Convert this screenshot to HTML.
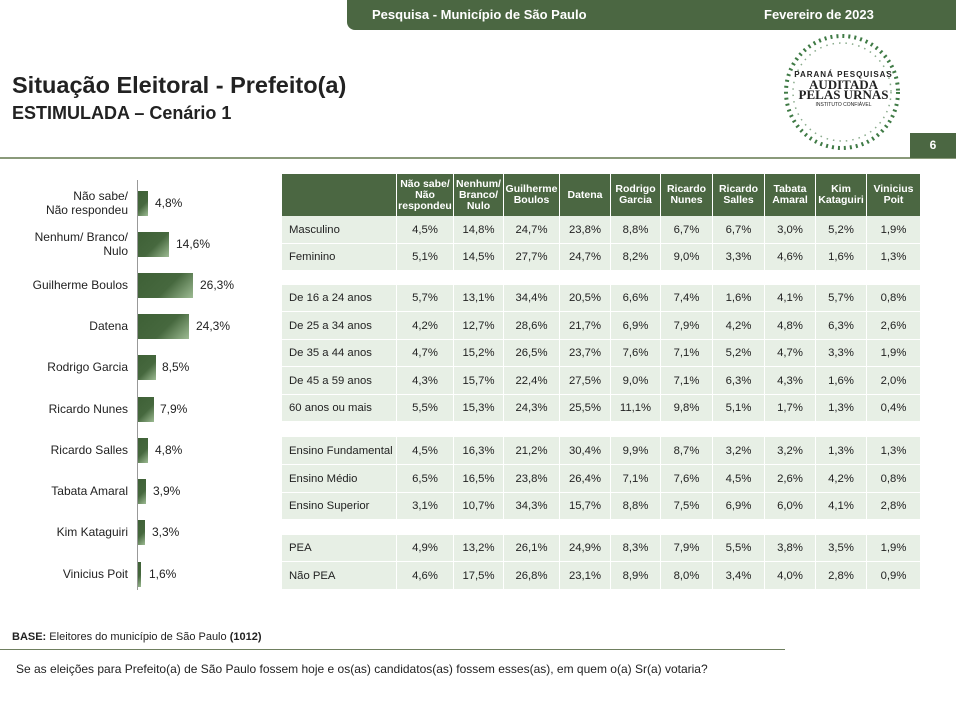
<!DOCTYPE html>
<html><head><meta charset="utf-8"><style>
*{margin:0;padding:0;box-sizing:border-box}
body{width:956px;height:716px;background:#fff;position:relative;overflow:hidden;font-family:"Liberation Sans",Arial,sans-serif;color:#222}
.a{position:absolute}
.hdr{left:347px;top:0;width:609px;height:30px;background:#4b6742;border-bottom-left-radius:8px;color:#fff;font-weight:bold;font-size:13px}
.row{position:absolute;left:282px;width:638px;display:flex;font-size:11.3px}
.row div{height:100%;display:flex;align-items:center;justify-content:center;border-right:1px solid #fff;background:#e7efe5;text-align:center}
.row div:first-child{justify-content:flex-start;padding-left:7px}
.row div:last-child{border-right:none}
.h div{background:#4b6742;color:#fff;font-weight:bold;font-size:10.5px;line-height:11px}
.lbl{position:absolute;right:828px;font-size:12px;text-align:right;line-height:14px;transform:translateY(-50%)}
.bar{position:absolute;left:138px;height:25px;background:linear-gradient(135deg,#3e6036 0%,#46683e 55%,#9dbb93 100%)}
.val{position:absolute;font-size:12px;transform:translateY(-50%)}
</style></head><body>
<div class="a hdr"><span class="a" style="left:25px;top:7px">Pesquisa - Município de São Paulo</span><span class="a" style="left:417px;top:7px">Fevereiro de 2023</span></div>
<div class="a" style="left:12px;top:72px;font-size:23.5px;font-weight:bold">Situação Eleitoral - Prefeito(a)</div>
<div class="a" style="left:12px;top:103px;font-size:18px;font-weight:bold">ESTIMULADA – Cenário 1</div>
<svg class="a" style="left:780px;top:30px" width="125" height="125" viewBox="0 0 125 125">
<circle cx="62" cy="62" r="56" fill="none" stroke="#3f7a45" stroke-width="4" stroke-dasharray="2 4"/>
<circle cx="62" cy="62" r="49" fill="none" stroke="#8aab8c" stroke-width="1.5" stroke-dasharray="1.5 5"/>
</svg>
<div class="a" style="left:786px;top:70px;width:115px;text-align:center;font-weight:bold;line-height:10px"><div style="font-size:8px;letter-spacing:1px">PARANÁ PESQUISAS</div><div style="font-family:'Liberation Serif',serif;font-size:13px">AUDITADA</div><div style="font-family:'Liberation Serif',serif;font-size:13px">PELAS URNAS</div><div style="font-size:5px;font-weight:normal">INSTITUTO CONFIÁVEL</div></div>
<div class="a" style="left:0;top:157px;width:956px;height:2px;background:#8a9a7a"></div>
<div class="a" style="left:910px;top:133px;width:46px;height:25px;background:#4b6742;color:#fff;font-weight:bold;font-size:12px;text-align:center;line-height:25px">6</div>

<div class="a" style="left:137px;top:180px;width:1px;height:410px;background:#999"></div>
<div class="lbl" style="top:203px">Não sabe/<br>Não respondeu</div><div class="bar" style="top:191px;width:10px"></div><div class="val" style="left:155px;top:203px">4,8%</div>
<div class="lbl" style="top:244px">Nenhum/ Branco/<br>Nulo</div><div class="bar" style="top:232px;width:31px"></div><div class="val" style="left:176px;top:244px">14,6%</div>
<div class="lbl" style="top:285px">Guilherme Boulos</div><div class="bar" style="top:273px;width:55px"></div><div class="val" style="left:200px;top:285px">26,3%</div>
<div class="lbl" style="top:326px">Datena</div><div class="bar" style="top:314px;width:51px"></div><div class="val" style="left:196px;top:326px">24,3%</div>
<div class="lbl" style="top:367px">Rodrigo Garcia</div><div class="bar" style="top:355px;width:18px"></div><div class="val" style="left:162px;top:367px">8,5%</div>
<div class="lbl" style="top:409px">Ricardo Nunes</div><div class="bar" style="top:397px;width:16px"></div><div class="val" style="left:160px;top:409px">7,9%</div>
<div class="lbl" style="top:450px">Ricardo Salles</div><div class="bar" style="top:438px;width:10px"></div><div class="val" style="left:155px;top:450px">4,8%</div>
<div class="lbl" style="top:491px">Tabata Amaral</div><div class="bar" style="top:479px;width:8px"></div><div class="val" style="left:153px;top:491px">3,9%</div>
<div class="lbl" style="top:532px">Kim Kataguiri</div><div class="bar" style="top:520px;width:7px"></div><div class="val" style="left:152px;top:532px">3,3%</div>
<div class="lbl" style="top:574px">Vinicius Poit</div><div class="bar" style="top:562px;width:3px"></div><div class="val" style="left:149px;top:574px">1,6%</div>

<div class="row h" style="top:174px;height:42px"><div style="width:115px"></div><div style="width:57px">Não sabe/<br>Não<br>respondeu</div><div style="width:50px">Nenhum/<br>Branco/<br>Nulo</div><div style="width:56px">Guilherme<br>Boulos</div><div style="width:51px">Datena</div><div style="width:50px">Rodrigo<br>Garcia</div><div style="width:52px">Ricardo<br>Nunes</div><div style="width:52px">Ricardo<br>Salles</div><div style="width:51px">Tabata<br>Amaral</div><div style="width:51px">Kim<br>Kataguiri</div><div style="width:53px">Vinicius<br>Poit</div></div>

<div class="row" style="top:216px;height:27px"><div style="width:115px">Masculino</div><div style="width:57px">4,5%</div><div style="width:50px">14,8%</div><div style="width:56px">24,7%</div><div style="width:51px">23,8%</div><div style="width:50px">8,8%</div><div style="width:52px">6,7%</div><div style="width:52px">6,7%</div><div style="width:51px">3,0%</div><div style="width:51px">5,2%</div><div style="width:53px">1,9%</div></div>
<div class="row" style="top:244px;height:26px"><div style="width:115px">Feminino</div><div style="width:57px">5,1%</div><div style="width:50px">14,5%</div><div style="width:56px">27,7%</div><div style="width:51px">24,7%</div><div style="width:50px">8,2%</div><div style="width:52px">9,0%</div><div style="width:52px">3,3%</div><div style="width:51px">4,6%</div><div style="width:51px">1,6%</div><div style="width:53px">1,3%</div></div>

<div class="row" style="top:285px;height:26px"><div style="width:115px">De 16 a 24 anos</div><div style="width:57px">5,7%</div><div style="width:50px">13,1%</div><div style="width:56px">34,4%</div><div style="width:51px">20,5%</div><div style="width:50px">6,6%</div><div style="width:52px">7,4%</div><div style="width:52px">1,6%</div><div style="width:51px">4,1%</div><div style="width:51px">5,7%</div><div style="width:53px">0,8%</div></div>
<div class="row" style="top:312px;height:27px"><div style="width:115px">De 25 a 34 anos</div><div style="width:57px">4,2%</div><div style="width:50px">12,7%</div><div style="width:56px">28,6%</div><div style="width:51px">21,7%</div><div style="width:50px">6,9%</div><div style="width:52px">7,9%</div><div style="width:52px">4,2%</div><div style="width:51px">4,8%</div><div style="width:51px">6,3%</div><div style="width:53px">2,6%</div></div>
<div class="row" style="top:340px;height:26px"><div style="width:115px">De 35 a 44 anos</div><div style="width:57px">4,7%</div><div style="width:50px">15,2%</div><div style="width:56px">26,5%</div><div style="width:51px">23,7%</div><div style="width:50px">7,6%</div><div style="width:52px">7,1%</div><div style="width:52px">5,2%</div><div style="width:51px">4,7%</div><div style="width:51px">3,3%</div><div style="width:53px">1,9%</div></div>
<div class="row" style="top:367px;height:27px"><div style="width:115px">De 45 a 59 anos</div><div style="width:57px">4,3%</div><div style="width:50px">15,7%</div><div style="width:56px">22,4%</div><div style="width:51px">27,5%</div><div style="width:50px">9,0%</div><div style="width:52px">7,1%</div><div style="width:52px">6,3%</div><div style="width:51px">4,3%</div><div style="width:51px">1,6%</div><div style="width:53px">2,0%</div></div>
<div class="row" style="top:395px;height:26px"><div style="width:115px">60 anos ou mais</div><div style="width:57px">5,5%</div><div style="width:50px">15,3%</div><div style="width:56px">24,3%</div><div style="width:51px">25,5%</div><div style="width:50px">11,1%</div><div style="width:52px">9,8%</div><div style="width:52px">5,1%</div><div style="width:51px">1,7%</div><div style="width:51px">1,3%</div><div style="width:53px">0,4%</div></div>

<div class="row" style="top:437px;height:27px"><div style="width:115px">Ensino Fundamental</div><div style="width:57px">4,5%</div><div style="width:50px">16,3%</div><div style="width:56px">21,2%</div><div style="width:51px">30,4%</div><div style="width:50px">9,9%</div><div style="width:52px">8,7%</div><div style="width:52px">3,2%</div><div style="width:51px">3,2%</div><div style="width:51px">1,3%</div><div style="width:53px">1,3%</div></div>
<div class="row" style="top:465px;height:27px"><div style="width:115px">Ensino Médio</div><div style="width:57px">6,5%</div><div style="width:50px">16,5%</div><div style="width:56px">23,8%</div><div style="width:51px">26,4%</div><div style="width:50px">7,1%</div><div style="width:52px">7,6%</div><div style="width:52px">4,5%</div><div style="width:51px">2,6%</div><div style="width:51px">4,2%</div><div style="width:53px">0,8%</div></div>
<div class="row" style="top:493px;height:26px"><div style="width:115px">Ensino Superior</div><div style="width:57px">3,1%</div><div style="width:50px">10,7%</div><div style="width:56px">34,3%</div><div style="width:51px">15,7%</div><div style="width:50px">8,8%</div><div style="width:52px">7,5%</div><div style="width:52px">6,9%</div><div style="width:51px">6,0%</div><div style="width:51px">4,1%</div><div style="width:53px">2,8%</div></div>

<div class="row" style="top:535px;height:26px"><div style="width:115px">PEA</div><div style="width:57px">4,9%</div><div style="width:50px">13,2%</div><div style="width:56px">26,1%</div><div style="width:51px">24,9%</div><div style="width:50px">8,3%</div><div style="width:52px">7,9%</div><div style="width:52px">5,5%</div><div style="width:51px">3,8%</div><div style="width:51px">3,5%</div><div style="width:53px">1,9%</div></div>
<div class="row" style="top:562px;height:27px"><div style="width:115px">Não PEA</div><div style="width:57px">4,6%</div><div style="width:50px">17,5%</div><div style="width:56px">26,8%</div><div style="width:51px">23,1%</div><div style="width:50px">8,9%</div><div style="width:52px">8,0%</div><div style="width:52px">3,4%</div><div style="width:51px">4,0%</div><div style="width:51px">2,8%</div><div style="width:53px">0,9%</div></div>

<div class="a" style="left:12px;top:631px;font-size:11px"><b>BASE:</b> Eleitores do município de São Paulo <b>(1012)</b></div>
<div class="a" style="left:0;top:649px;width:785px;height:1px;background:#6f7f5f"></div>
<div class="a" style="left:16px;top:662px;font-size:12px">Se as eleições para Prefeito(a) de São Paulo fossem hoje e os(as) candidatos(as) fossem esses(as), em quem o(a) Sr(a) votaria?</div>
</body></html>
